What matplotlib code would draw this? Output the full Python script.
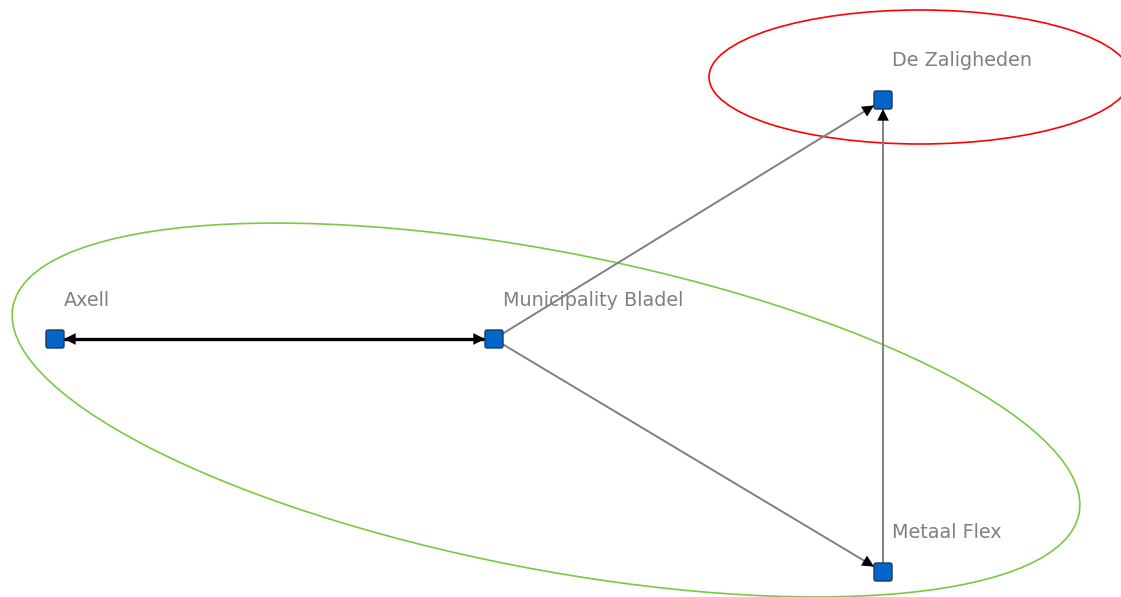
import matplotlib.pyplot as plt
import numpy as np
from matplotlib.patches import Ellipse, FancyBboxPatch, FancyArrowPatch

# node layout (pixel positions)
names = ['Axell', 'Municipality Bladel', 'De Zaligheden', 'Metaal Flex']
node_x = [55, 494, 883, 883]
node_y = [339, 339, 100, 572]

# edges: source, target, both ways?, colour, width
edge_src = [0, 1, 1, 3]
edge_dst = [1, 2, 3, 2]
edge_both = [True, False, False, False]
edge_col = ['black', '#808080', '#808080', '#808080']
edge_lw = [2.4, 1.4, 1.4, 1.4]

fig = plt.figure(figsize=(11.21, 5.97), dpi=100)
ax = fig.add_axes([0, 0, 1, 1])
ax.set_xlim(0, 1121)
ax.set_ylim(597, 0)
ax.axis('off')

# group ellipses
ax.add_patch(Ellipse((546, 410), 1086, 317, angle=11, fill=False,
                     edgecolor='#7ac943', lw=1.2))
ax.add_patch(Ellipse((920, 77), 422, 134, angle=0, fill=False,
                     edgecolor='#ff0000', lw=1.2))

half = 9  # half node size


def head(ax, x0, y0, x1, y1):
    # black arrowhead ending at the node border
    d = np.hypot(x1 - x0, y1 - y0)
    ux, uy = (x1 - x0) / d, (y1 - y0) / d
    t = half / max(abs(ux), abs(uy))
    ex, ey = x1 - ux * t, y1 - uy * t
    sx, sy = ex - ux * 16, ey - uy * 16
    ax.add_patch(FancyArrowPatch((sx, sy), (ex, ey), arrowstyle='-|>',
                                 mutation_scale=21, color='black', lw=0,
                                 shrinkA=0, shrinkB=0, zorder=3))


for s, t, both, c, lw in zip(edge_src, edge_dst, edge_both, edge_col, edge_lw):
    x0, y0, x1, y1 = node_x[s], node_y[s], node_x[t], node_y[t]
    ax.plot([x0, x1], [y0, y1], color=c, lw=lw, zorder=2, solid_capstyle='butt')
    head(ax, x0, y0, x1, y1)
    if both:
        head(ax, x1, y1, x0, y0)

for n, x, y in zip(names, node_x, node_y):
    ax.add_patch(FancyBboxPatch((x - half + 2, y - half + 2), 2 * half - 4, 2 * half - 4,
                                boxstyle='round,pad=2', facecolor='#0066cc',
                                edgecolor='#1f3a5a', lw=1, zorder=4))
    ax.text(x + 9, y - 39, n, fontsize=13.8, color='#808080',
            ha='left', va='center', family='DejaVu Sans')

fig.savefig('out.png', dpi=100)
